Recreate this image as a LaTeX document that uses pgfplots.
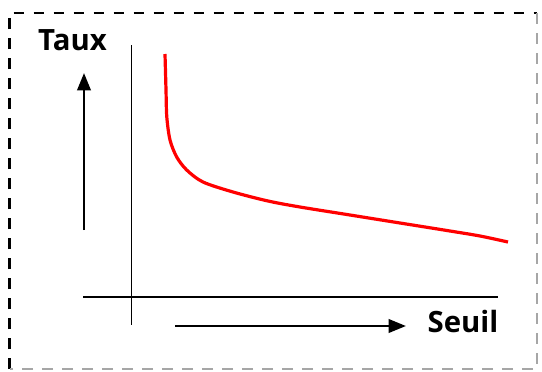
\documentclass[border=0pt]{standalone}
\usepackage{fontspec}
\setmainfont{Open Sans}
\usepackage{pgfplots}
\pgfplotsset{compat=1.18}
\usetikzlibrary{arrows.meta}
\begin{document}
\begin{tikzpicture}
\begin{axis}[
  scale only axis, width=406.5pt, height=278.25pt,
  xmin=0, xmax=542, ymin=0, ymax=371, y dir=reverse,
  hide axis, clip=false, anchor=south west, at={(0,0)},
]
% border
\addplot[black, line width=2pt, dash pattern=on 8pt off 7pt] coordinates {(9.5,369) (9.5,13) (537,13)};
\addplot[gray!70, line width=2pt, dash pattern=on 8pt off 7pt] coordinates {(537,13) (537,369) (9.5,369)};
% axes
\addplot[black, line width=1.1pt] coordinates {(131.5,45) (131.5,325)};
\addplot[black, line width=1.1pt] coordinates {(83,297) (498,297)};
% arrows
\addplot[black, line width=2pt, -{Triangle[length=13pt,width=10pt]}] coordinates {(84,230) (84,73)};
\addplot[black, line width=2pt, -{Triangle[length=13pt,width=10pt]}] coordinates {(175,326) (406,326)};
% curve
\addplot[red, line width=2.4pt, smooth] coordinates {
(165,54) (166,90) (166.8,117) (170,140) (176.7,157) (186.7,170) (203,182) (233,192) (268,201) (300,207) (350,215) (400,223) (450,231) (480,236) (508,242)};
\node[anchor=base, font=\fontsize{22}{26}\selectfont\bfseries] at (axis cs:72.5,50) {Taux};
\node[anchor=base, font=\fontsize{22}{26}\selectfont\bfseries] at (axis cs:463,332) {Seuil};
\end{axis}
\pgfresetboundingbox
\path (0,0) rectangle (406.5pt,278.25pt);
\end{tikzpicture}
\end{document}
